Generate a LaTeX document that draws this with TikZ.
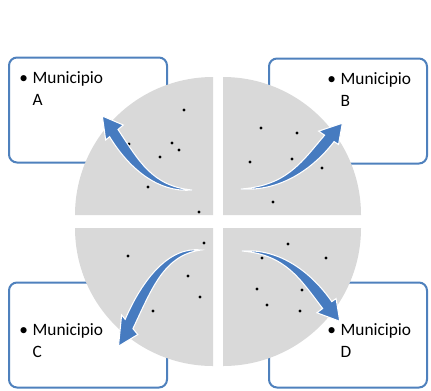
\documentclass[tikz,border=0pt]{standalone}
\usepackage{fontspec}
\setmainfont{Carlito}
\usepackage{tikz}
\usetikzlibrary{positioning}

\definecolor{boxblue}{RGB}{79,129,189}
\definecolor{arrowblue}{RGB}{70,123,192}
\definecolor{quadgray}{RGB}{217,217,217}

\tikzset{
  munibox/.style={draw=boxblue, line width=1.5pt, rounded corners=6pt, fill=white,
                  minimum width=118.5pt, minimum height=78.75pt, inner sep=0pt},
  munitext/.style={anchor=base west, font=\fontsize{13}{16.5}\selectfont, align=left, inner sep=0pt},
  swoosh/.pic={
    \filldraw[fill=arrowblue, draw=white, line width=0.8pt]
      (0,0) .. controls (-40,-4) and (-53,-29) .. (-74,-60.5) -- (-68.7,-65) -- (-89.7,-74)
      -- (-86.3,-50) -- (-82.4,-53.3) .. controls (-64,-23) and (-35,3) .. cycle;}
}

\begin{document}
\begin{tikzpicture}[x=0.75pt, y=-0.75pt]
  \useasboundingbox (0,0) rectangle (431,390);
  % boxes behind the disc
  \foreach \n/\cx/\cy in {A/88/110, B/348/111, C/88/335, D/348/335}
    \node[munibox] (box\n) at (\cx,\cy) {};

  % four quarters
  \fill[quadgray] (213,215) -- ++(-138,0) arc[start angle=180, end angle=270, radius=138] -- cycle;
  \fill[quadgray] (223,215) -- ++(0,-138) arc[start angle=270, end angle=360, radius=138] -- cycle;
  \fill[quadgray] (213,228) -- ++(0,138) arc[start angle=90, end angle=180, radius=138] -- cycle;
  \fill[quadgray] (223,228) -- ++(138,0) arc[start angle=0, end angle=90, radius=138] -- cycle;

  \foreach \px/\py in {184/110, 129/144, 172/143, 179/150, 160/157, 148/187, 199/212,
                       261/128, 297/133, 250/162, 292/159, 322/168, 273/202,
                       204/243, 128/256, 188/276, 200/297, 153/311,
                       288/244, 262/258, 326/258, 257/289, 302/290, 267/305, 300/311}
    \fill[black] (\px,\py) circle (1.6);

  \pic at (192,190) {swoosh};
  \pic[xscale=-1.13, yscale=0.89] at (241,189) {swoosh};
  \pic[xscale=0.92, yscale=-1.3] at (201,250) {swoosh};
  \pic[xscale=-1.09, yscale=-0.95] at (242,251) {swoosh};

  \foreach \n/\tx/\ty in {A/19/105, B/327/106, C/19/357, D/327/357}
    \node[munitext] (txt\n) at (\tx,\ty) {\makebox[10pt][l]{•}Municipio\\\hspace*{10pt}\n};
\end{tikzpicture}
\end{document}
